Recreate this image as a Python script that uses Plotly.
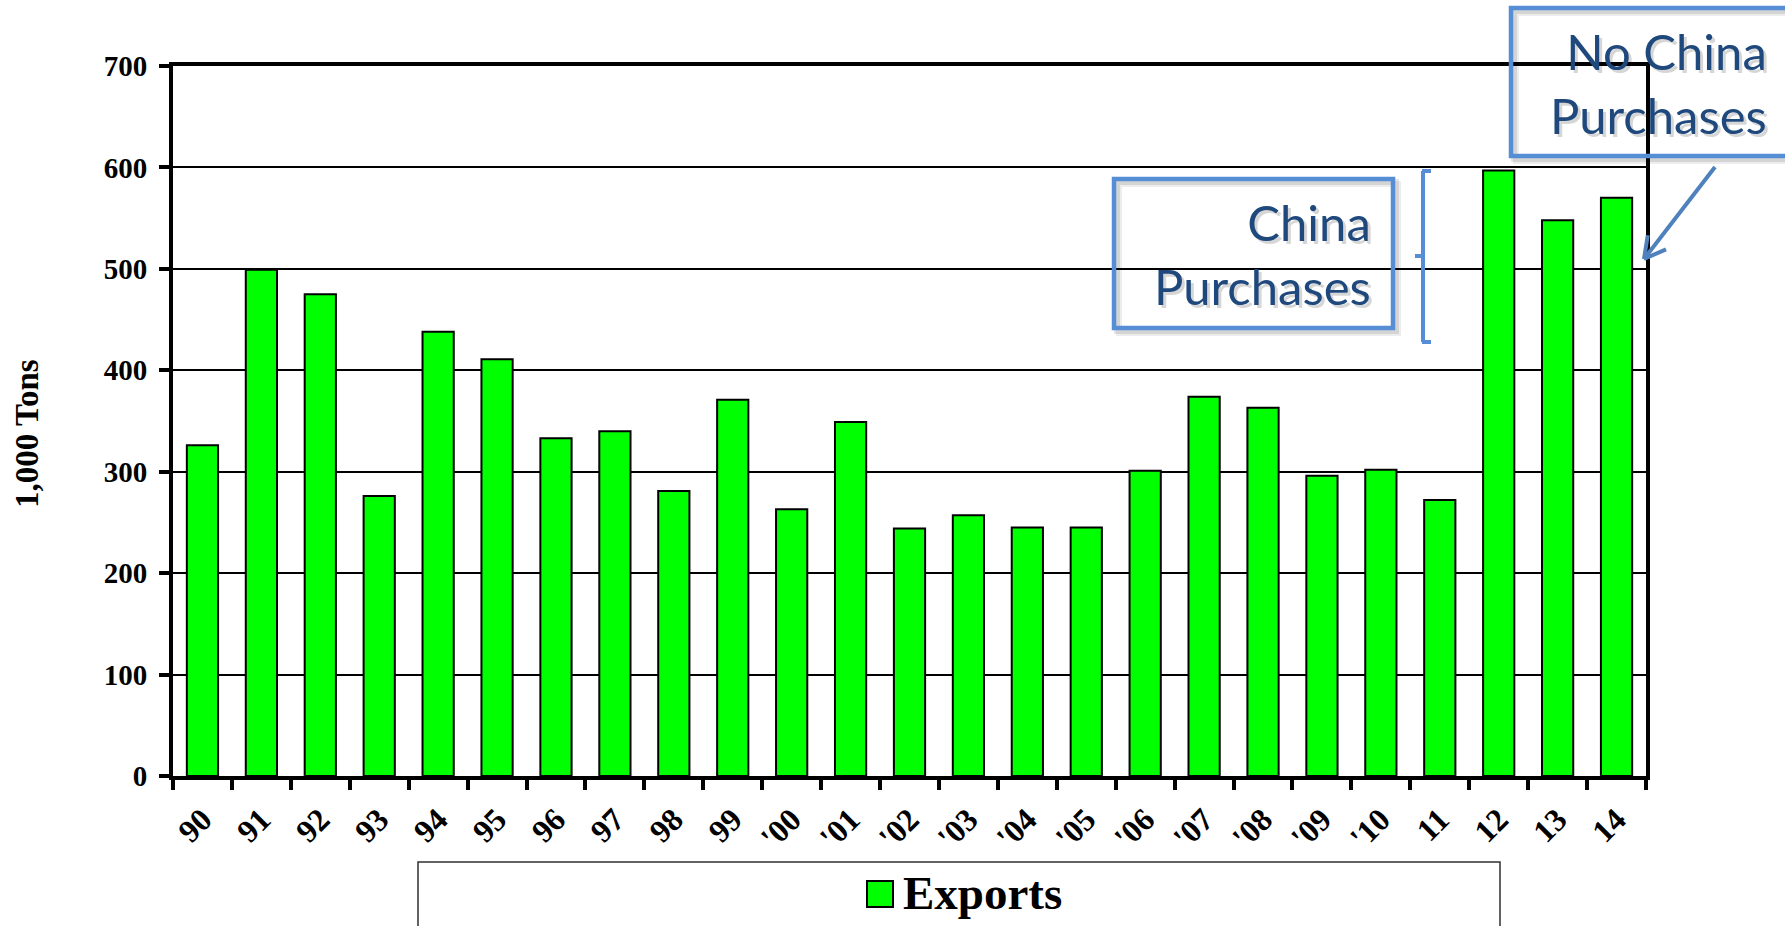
import math
import plotly.graph_objects as go

# Export volumes by marketing year (1,000 tons)
years = ["90", "91", "92", "93", "94", "95", "96", "97", "98", "99",
         "'00", "'01", "'02", "'03", "'04", "'05", "'06", "'07", "'08", "'09",
         "'10", "11", "12", "13", "14"]
exports = [326, 499, 475, 276, 438, 411, 333, 340, 281, 371,
           263, 349, 244, 257, 245, 245, 301, 374, 363, 296,
           302, 272, 597, 548, 570]

W, H = 1785, 926
L, R, T, B = 173, 1646, 66, 776  # plot area edges in pixels


def fx(x):
    return (x - L) / (R - L)


def fy(y):
    return (B - y) / (B - T)


AXIS_FONT = dict(family="Liberation Serif", size=29, color="black", weight="bold")
XTICK_FONT = dict(family="Liberation Serif", size=32, color="black", weight="bold")
NOTE_FONT = dict(family="Lato", size=49, color="#1F497D")
BOX_BLUE = "#558ED5"
ARROW_BLUE = "#4F81BD"

fig = go.Figure(go.Bar(
    x=years, y=exports, name="Exports",
    marker=dict(color="#00FF00", line=dict(color="black", width=2)),
    showlegend=False,
))

shapes = []
annotations = []


def box(x0, y0, x1, y1):
    # soft drop shadow, then the outline
    for off, alpha in ((5, 0.07), (3, 0.10)):
        shapes.append(dict(type="rect", xref="paper", yref="paper",
                           x0=fx(x0 + off), x1=fx(x1 + off), y0=fy(y1 + off), y1=fy(y0 + off),
                           line=dict(color=f"rgba(0,0,0,{alpha})", width=6), layer="above"))
    shapes.append(dict(type="rect", xref="paper", yref="paper",
                       x0=fx(x0), x1=fx(x1), y0=fy(y1), y1=fy(y0),
                       line=dict(color=BOX_BLUE, width=4.5), layer="above"))


def seg(x0, y0, x1, y1, color, width):
    shapes.append(dict(type="line", xref="paper", yref="paper",
                       x0=fx(x0), x1=fx(x1), y0=fy(y0), y1=fy(y1),
                       line=dict(color=color, width=width), layer="above"))


def note(x, y, text):
    # light shadow under the callout text, then the text itself
    annotations.append(dict(xref="paper", yref="paper", x=fx(x + 3), y=fy(y + 3),
                            xanchor="right", yanchor="middle", align="right",
                            text=text, showarrow=False,
                            font=dict(NOTE_FONT, color="rgba(0,0,0,0.16)")))
    annotations.append(dict(xref="paper", yref="paper", x=fx(x), y=fy(y),
                            xanchor="right", yanchor="middle", align="right",
                            text=text, showarrow=False, font=NOTE_FONT))


# "China Purchases" callout with its bracket
box(1114, 179, 1393, 328)
note(1373, 254, "China<br>Purchases")
bx = 1423
seg(bx, 171, bx, 342, BOX_BLUE, 4)
seg(bx - 1, 171, bx + 8, 171, BOX_BLUE, 4)
seg(bx - 1, 342, bx + 8, 342, BOX_BLUE, 4)
seg(bx, 256, bx - 8, 256, BOX_BLUE, 4)

# "No China Purchases" callout with arrow
box(1511, 8, 1800, 156)
note(1769, 83, "No China<br>Purchases")
tail = (1715, 167)
tip = (1644, 259)
seg(tail[0], tail[1], tip[0], tip[1], ARROW_BLUE, 4)
ang = math.atan2(tail[1] - tip[1], tail[0] - tip[0])
for d in (-0.5, 0.5):
    a = ang + d
    seg(tip[0], tip[1], tip[0] + 24 * math.cos(a), tip[1] + 24 * math.sin(a), ARROW_BLUE, 4)

# legend panel
shapes.append(dict(type="rect", xref="paper", yref="paper",
                   x0=fx(418), x1=fx(1500), y0=fy(940), y1=fy(862),
                   line=dict(color="#303030", width=1.5), layer="above"))
shapes.append(dict(type="rect", xref="paper", yref="paper",
                   x0=fx(867), x1=fx(893), y0=fy(907), y1=fy(881),
                   fillcolor="#00FF00", line=dict(color="black", width=2), layer="above"))
annotations.append(dict(xref="paper", yref="paper", x=fx(901), y=fy(893),
                        xanchor="left", yanchor="middle", text="Exports",
                        showarrow=False,
                        font=dict(family="Liberation Serif", size=47, color="black", weight="bold")))

# y-axis title
annotations.append(dict(xref="paper", yref="paper", x=fx(27), y=fy(434),
                        xanchor="center", yanchor="middle", textangle=-90,
                        text="1,000 Tons", showarrow=False,
                        font=dict(AXIS_FONT, size=33)))

fig.update_layout(
    width=W, height=H,
    margin=dict(l=L, r=W - R, t=T, b=H - B, pad=0),
    paper_bgcolor="white", plot_bgcolor="white",
    bargap=0.47,
    shapes=shapes, annotations=annotations,
    xaxis=dict(type="category", showline=True, linecolor="black", linewidth=4, mirror=True,
               ticks="outside", tickson="boundaries", ticklen=10, tickwidth=4, tickcolor="black",
               tickangle=-45, tickfont=XTICK_FONT, showgrid=False, ticklabelstandoff=8),
    yaxis=dict(range=[0, 700], dtick=100, showline=True, linecolor="black", linewidth=4,
               mirror=True, ticks="outside", ticklen=10, tickwidth=4, tickcolor="black",
               tickfont=AXIS_FONT, showgrid=True, gridcolor="black", gridwidth=2,
               zeroline=False, ticklabelstandoff=6),
)

fig.write_html("out.html")
